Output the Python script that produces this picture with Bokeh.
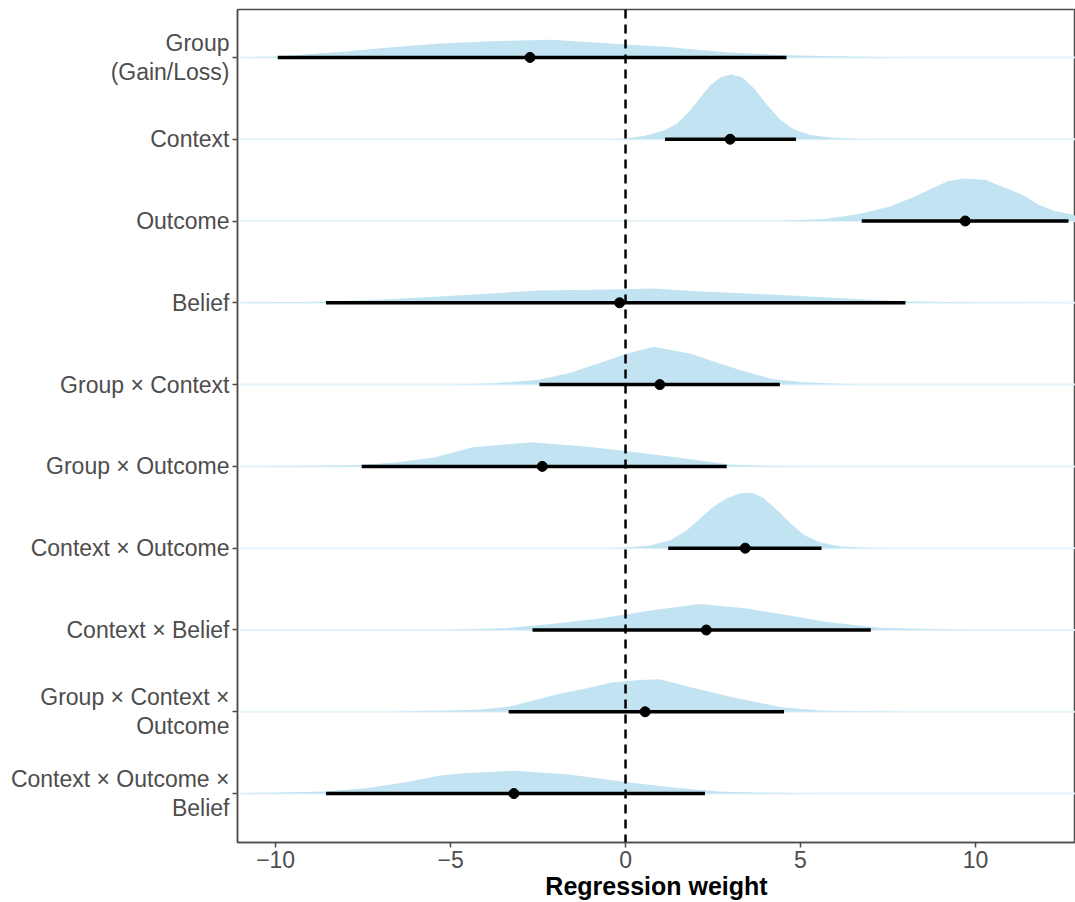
from bokeh.plotting import figure
from bokeh.models import Range1d, Span, FixedTicker, ColumnDataSource
from bokeh.embed import file_html
from bokeh.resources import INLINE

# ---------------- data ----------------
labels = ["Group\n(Gain/Loss)", "Context", "Outcome", "Belief", "Group × Context",
          "Group × Outcome", "Context × Outcome", "Context × Belief",
          "Group × Context ×\nOutcome", "Context × Outcome ×\nBelief"]
medians = [-2.73, 2.99, 9.71, -0.17, 0.98, -2.38, 3.42, 2.31, 0.56, -3.19]
lower = [-9.94, 1.13, 6.75, -8.56, -2.46, -7.54, 1.22, -2.66, -3.34, -8.56]
upper = [4.60, 4.87, 12.66, 8.00, 4.41, 2.89, 5.60, 7.01, 4.53, 2.27]

# posterior density outlines (x, height as fraction of row spacing)
dens_x = [
    [-11.0, -9.94, -8.0, -6.5, -5.3, -4.06, -2.08, 0.0, 1.13, 2.96, 4.6, 7.2, 8.0],
    [-0.5, 0.0, 0.52, 1.1, 1.48, 1.86, 2.14, 2.43, 2.71, 3.02, 3.33, 3.67, 4.05,
     4.43, 4.81, 5.29, 5.86, 6.62, 7.2],
    [4.2, 5.71, 6.63, 7.54, 8.15, 8.76, 9.22, 9.68, 10.29, 10.9, 11.36, 11.82, 12.27,
     12.73, 12.86],
    [-11.08, -8.56, -6.5, -4.2, -2.53, -0.4, 0.82, 1.89, 4.18, 6.47, 8.0, 10.3, 12.86],
    [-4.98, -3.76, -2.53, -1.62, -0.4, 0.0, 0.82, 1.89, 2.6, 3.27, 4.18, 5.1, 6.47],
    [-11.0, -9.56, -7.57, -6.5, -5.44, -4.37, -2.69, -1.16, 0.0, 1.44, 2.96, 4.18, 6.0],
    [-0.5, 0.0, 0.71, 1.29, 1.76, 2.14, 2.52, 2.90, 3.29, 3.62, 3.95, 4.33, 4.71,
     5.1, 5.57, 6.14, 6.9, 7.5],
    [-5.5, -4.98, -3.45, -1.92, -0.7, 0.82, 2.12, 3.42, 4.6, 5.71, 7.24, 9.53, 11.0],
    [-6.5, -4.21, -3.3, -1.92, -1.0, -0.4, 0.4, 0.98, 1.89, 2.96, 4.49, 5.71, 8.0],
    [-11.08, -8.56, -7.3, -6.2, -5.3, -4.52, -3.15, -1.62, 0.0, 1.44, 2.66, 4.18, 5.5],
]
dens_h = [
    [0.0, 0.012, 0.073, 0.130, 0.171, 0.195, 0.216, 0.159, 0.130, 0.061, 0.028, 0.006, 0.0],
    [0.0, 0.009, 0.040, 0.106, 0.195, 0.357, 0.512, 0.662, 0.756, 0.793, 0.756, 0.622,
     0.418, 0.235, 0.122, 0.052, 0.021, 0.004, 0.0],
    [0.0, 0.024, 0.082, 0.174, 0.277, 0.399, 0.488, 0.521, 0.500, 0.399, 0.317, 0.195,
     0.122, 0.082, 0.065],
    [0.004, 0.012, 0.049, 0.106, 0.150, 0.162, 0.174, 0.143, 0.101, 0.049, 0.016, 0.004, 0.0],
    [0.0, 0.016, 0.057, 0.138, 0.313, 0.374, 0.463, 0.374, 0.270, 0.179, 0.070, 0.028, 0.004],
    [0.0, 0.004, 0.016, 0.052, 0.113, 0.235, 0.296, 0.244, 0.187, 0.113, 0.024, 0.004, 0.0],
    [0.0, 0.009, 0.033, 0.101, 0.223, 0.366, 0.509, 0.610, 0.671, 0.679, 0.610, 0.467,
     0.305, 0.162, 0.070, 0.021, 0.004, 0.0],
    [0.0, 0.004, 0.021, 0.082, 0.143, 0.244, 0.317, 0.265, 0.183, 0.101, 0.028, 0.004, 0.0],
    [0.004, 0.024, 0.065, 0.216, 0.296, 0.357, 0.390, 0.399, 0.296, 0.187, 0.052, 0.012, 0.0],
    [0.004, 0.024, 0.070, 0.146, 0.220, 0.252, 0.280, 0.232, 0.143, 0.070, 0.024, 0.009, 0.0],
]
x_ticks = [-10, -5, 0, 5, 10]
x_tick_labels = ["−10", "−5", "0", "5", "10"]

# ---------------- layout ----------------
X_LO, X_HI = -11.09, 12.86
n = len(labels)
rows = [n - i for i in range(n)]   # top row highest

FONT = "Liberation Sans"
FILL = "#c2e4f2"

p = figure(width=1075, height=902, output_backend="svg", toolbar_location=None,
           x_range=Range1d(X_LO, X_HI), y_range=Range1d(0.402, 10.586))
p.min_border_left = 237
p.min_border_right = 0
p.min_border_top = 9
p.min_border_bottom = 59
p.xgrid.visible = False
p.ygrid.visible = False
p.outline_line_color = "#4d4d4d"
p.outline_line_width = 1.5
p.background_fill_color = "white"
p.border_fill_color = "white"

# faint baselines (density tails)
p.segment(x0=[X_LO] * n, x1=[X_HI] * n, y0=rows, y1=rows,
          line_color="#e6f4fa", line_width=2)

# densities
xs, ys = [], []
for r, dx, dh in zip(rows, dens_x, dens_h):
    xs.append(list(dx) + [dx[-1], dx[0]])
    ys.append([r + h for h in dh] + [r, r])
p.patches(xs=xs, ys=ys, fill_color=FILL, line_color=None)

# zero line
p.add_layout(Span(location=0, dimension="height", line_color="black",
                  line_width=2.5, line_dash="9 6", level="glyph"))

# intervals and medians
src = ColumnDataSource(dict(y=rows, lo=lower, hi=upper, med=medians))
p.segment(x0="lo", x1="hi", y0="y", y1="y", source=src, line_color="black", line_width=3.5)
p.scatter(x="med", y="y", source=src, size=10, fill_color="black", line_color="black")

# axes
p.yaxis.ticker = FixedTicker(ticks=rows)
p.yaxis.major_label_overrides = {r: lab for r, lab in zip(rows, labels)}
p.xaxis.ticker = FixedTicker(ticks=x_ticks)
p.xaxis.major_label_overrides = {t: lab for t, lab in zip(x_ticks, x_tick_labels)}
for ax in (p.xaxis[0], p.yaxis[0]):
    ax.axis_line_color = "#4d4d4d"
    ax.axis_line_width = 1.5
    ax.major_tick_line_color = "#4d4d4d"
    ax.major_tick_line_width = 1.5
    ax.major_tick_out = 5
    ax.major_tick_in = 0
    ax.minor_tick_line_color = None
    ax.major_label_text_font = FONT
    ax.major_label_text_font_size = "23px"
    ax.major_label_text_color = "#4d4d4d"
    ax.major_label_text_line_height = 1.1
    ax.major_label_standoff = 3
p.xaxis.axis_label = "Regression weight"
p.xaxis.axis_label_text_font = FONT
p.xaxis.axis_label_text_font_size = "25px"
p.xaxis.axis_label_text_font_style = "bold"
p.xaxis.axis_label_text_color = "black"
p.xaxis.axis_label_standoff = 1

open("out.html", "w").write(file_html(p, INLINE))
